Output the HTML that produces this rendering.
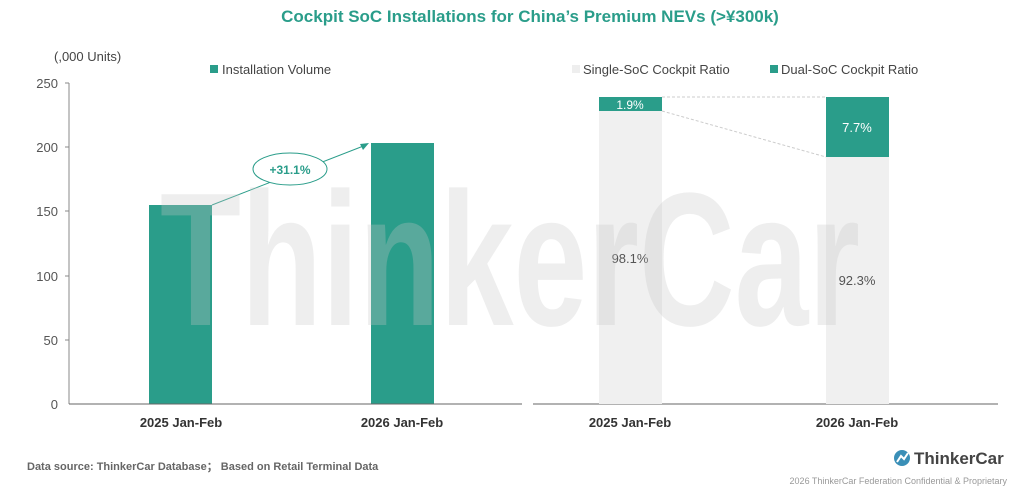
<!DOCTYPE html>
<html><head><meta charset="utf-8"><style>
body{margin:0;width:1024px;height:497px;background:#fff;overflow:hidden;font-family:"Liberation Sans",sans-serif;}
</style></head><body>
<svg width="1024" height="497" xmlns="http://www.w3.org/2000/svg" font-family="Liberation Sans, sans-serif">
<text x="530" y="22" text-anchor="middle" font-size="17" font-weight="bold" fill="#2a9d8a">Cockpit SoC Installations for China’s Premium NEVs (&gt;¥300k)</text>
<text x="54" y="61" font-size="13" fill="#444">(,000 Units)</text>
<rect x="210" y="65" width="8" height="8" fill="#2a9d8a"/>
<text x="222" y="74" font-size="13" fill="#444">Installation Volume</text>
<g font-size="13" fill="#555" text-anchor="end">
<text x="58" y="88">250</text><text x="58" y="152">200</text><text x="58" y="216">150</text><text x="58" y="281">100</text><text x="58" y="345">50</text><text x="58" y="409">0</text>
</g>
<line x1="69" y1="83" x2="69" y2="404" stroke="#888"/>
<g stroke="#888"><line x1="65" y1="83" x2="69" y2="83"/><line x1="65" y1="147" x2="69" y2="147"/><line x1="65" y1="211" x2="69" y2="211"/><line x1="65" y1="276" x2="69" y2="276"/><line x1="65" y1="340" x2="69" y2="340"/></g>
<rect x="149" y="205" width="63" height="199" fill="#2a9d8a"/>
<rect x="371" y="143" width="63" height="261" fill="#2a9d8a"/>
<line x1="69" y1="404" x2="522" y2="404" stroke="#666"/>
<line x1="533" y1="404" x2="998" y2="404" stroke="#666"/>
<line x1="212" y1="205" x2="366" y2="145" stroke="#2a9d8a"/>
<polygon points="369,143 360,144 363,150" fill="#2a9d8a"/>
<ellipse cx="290" cy="169" rx="37" ry="16" fill="#fff" stroke="#2a9d8a"/>
<text x="290" y="174" text-anchor="middle" font-size="12" font-weight="bold" fill="#2a9d8a">+31.1%</text>
<rect x="572" y="65" width="8" height="8" fill="#eee"/>
<text x="583" y="74" font-size="13" fill="#444">Single-SoC Cockpit Ratio</text>
<rect x="770" y="65" width="8" height="8" fill="#2a9d8a"/>
<text x="781" y="74" font-size="13" fill="#444">Dual-SoC Cockpit Ratio</text>
<rect x="599" y="111" width="63" height="293" fill="#f0f0f0"/>
<rect x="599" y="97" width="63" height="14" fill="#2a9d8a"/>
<rect x="826" y="157" width="63" height="247" fill="#f0f0f0"/>
<rect x="826" y="97" width="63" height="60" fill="#2a9d8a"/>
<line x1="662" y1="97" x2="826" y2="97" stroke="#ccc" stroke-dasharray="3,2"/>
<line x1="662" y1="111" x2="826" y2="157" stroke="#ccc" stroke-dasharray="3,2"/>
<text x="630" y="109" text-anchor="middle" font-size="12" fill="#fff">1.9%</text>
<text x="857" y="132" text-anchor="middle" font-size="13" fill="#fff">7.7%</text>
<text x="630" y="263" text-anchor="middle" font-size="13" fill="#555">98.1%</text>
<text x="857" y="285" text-anchor="middle" font-size="13" fill="#555">92.3%</text>
<text x="160" y="325" font-size="190" font-weight="bold" fill="#c8c8c8" fill-opacity="0.3" textLength="700" lengthAdjust="spacingAndGlyphs">ThinkerCar</text>
<g font-size="13" font-weight="bold" fill="#333" text-anchor="middle">
<text x="181" y="427">2025 Jan-Feb</text><text x="402" y="427">2026 Jan-Feb</text>
<text x="630" y="427">2025 Jan-Feb</text><text x="857" y="427">2026 Jan-Feb</text>
</g>
<text x="27" y="470" font-size="11" font-weight="bold" fill="#666">Data source: ThinkerCar Database； Based on Retail Terminal Data</text>
<circle cx="902" cy="458" r="8" fill="#3a8fb7"/>
<path d="M897 462 L901 456 L904 459 L908 453" stroke="#fff" stroke-width="2" fill="none"/>
<text x="914" y="464" font-size="17" font-weight="bold" fill="#444">ThinkerCar</text>
<text x="1007" y="484" text-anchor="end" font-size="9" fill="#999">2026 ThinkerCar Federation Confidential &amp; Proprietary</text>
</svg>
</body></html>
